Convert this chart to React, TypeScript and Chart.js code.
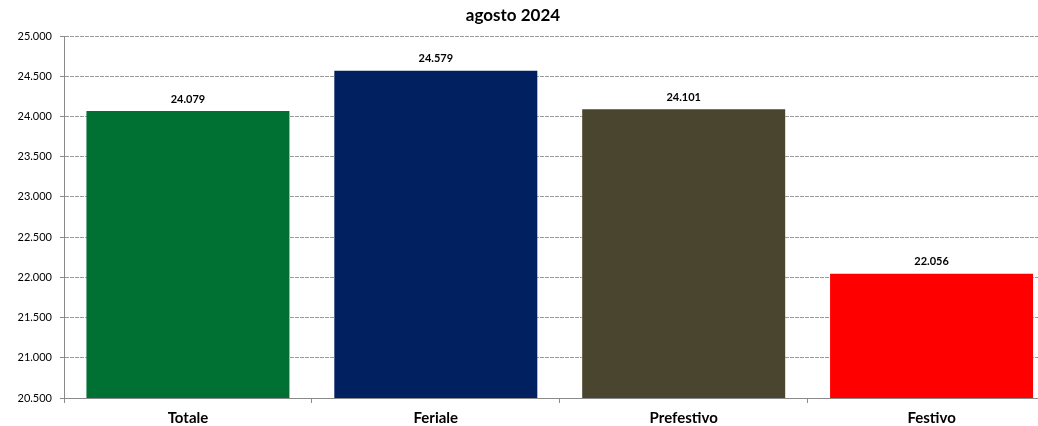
import React, { useEffect, useRef } from "react";
import { Chart, registerables } from "chart.js";

Chart.register(...registerables);

const categories = ["Totale", "Feriale", "Prefestivo", "Festivo"];
const values = [24079, 24579, 24101, 22056];
const barColors = ["#007033", "#002060", "#4A452F", "#FF0000"];
const chartTitle = "agosto 2024";
const yMin = 20500;
const yMax = 25000;
const yStep = 500;

const FONT = "Lato, 'Open Sans', sans-serif";

function fmt(v: number): string {
  const s = Math.round(v).toString();
  return s.replace(/\B(?=(\d{3})+(?!\d))/g, ".");
}

const CANVAS_W = 1070;
const CANVAS_H = 426;

export default function App() {
  const ref = useRef<HTMLCanvasElement | null>(null);
  useEffect(() => {
    if (!ref.current) return;
    const labelPlugin = {
      id: "valueLabels",
      afterDatasetsDraw(chart: any) {
        const ctx = chart.ctx;
        const meta = chart.getDatasetMeta(0);
        ctx.save();
        ctx.font = `bold 11px ${FONT}`;
        ctx.fillStyle = "#000";
        ctx.textAlign = "center";
        ctx.textBaseline = "middle";
        meta.data.forEach((el: any, i: number) => {
          ctx.fillText(fmt(values[i]), el.x, el.y - 11);
        });
        ctx.restore();
      },
    };
    const titlePlugin = {
      id: "customTitle",
      afterDraw(chart: any) {
        const ctx = chart.ctx;
        ctx.save();
        ctx.font = `bold 17px ${FONT}`;
        ctx.fillStyle = "#000";
        ctx.textAlign = "center";
        ctx.textBaseline = "middle";
        ctx.fillText(chartTitle, 513, 16);
        ctx.restore();
      },
    };
    const chart = new Chart(ref.current, {
      type: "bar",
      data: {
        labels: categories,
        datasets: [
          {
            data: values,
            backgroundColor: barColors,
            borderColor: "rgba(255,255,255,0.35)",
            borderWidth: 1,
            barPercentage: 0.827,
            categoryPercentage: 1,
          },
        ],
      },
      options: {
        animation: false,
        responsive: false,
        maintainAspectRatio: false,
        layout: { padding: { top: 36, right: CANVAS_W - 1055.5, left: 0, bottom: 0 } },
        plugins: {
          legend: { display: false },
          title: { display: false },
          tooltip: { enabled: false },
        },
        scales: {
          x: {
            offset: true,
            grid: {
              offset: true,
              drawOnChartArea: false,
              drawTicks: true,
              tickLength: 5,
              color: "#8a8a8a",
            },
            border: { color: "#8a8a8a", width: 1 },
            ticks: {
              color: "#000",
              font: { family: FONT, size: 15, weight: "bold" },
              padding: 6,
            },
            afterFit(scale: any) {
              scale.height = CANVAS_H - 398;
            },
          },
          y: {
            min: yMin,
            max: yMax,
            ticks: {
              stepSize: yStep,
              color: "#000",
              font: { family: FONT, size: 11 },
              padding: 8,
              callback: (v: any) => fmt(Number(v)),
            },
            grid: {
              color: "#9a9a9a",
              tickBorderDash: [],
              tickColor: "#8a8a8a",
              tickLength: 4,
              lineWidth: 1,
            },
            border: { color: "#8a8a8a", width: 1, dash: [4, 1] },
            afterFit(scale: any) {
              scale.width = 64;
            },
          },
        },
      },
      plugins: [labelPlugin, titlePlugin],
    } as any);
    return () => chart.destroy();
  }, []);
  return (
    <div
      style={{
        position: "fixed",
        left: 0,
        top: 0,
        width: 1038,
        height: 426,
        overflow: "hidden",
        background: "#fff",
      }}
    >
      <canvas
        ref={ref}
        width={CANVAS_W}
        height={CANVAS_H}
        style={{ width: CANVAS_W, height: CANVAS_H, display: "block" }}
      />
    </div>
  );
}
